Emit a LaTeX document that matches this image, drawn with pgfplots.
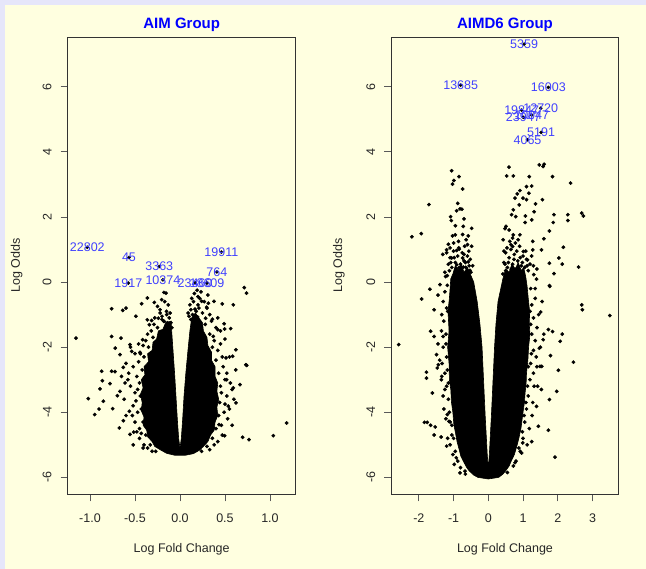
\documentclass[border=0pt]{standalone}
\usepackage{pgfplots}
\pgfplotsset{compat=1.18}
\usepackage{fontspec}
\setmainfont{Liberation Sans}
\definecolor{lav}{RGB}{230,230,250}
\definecolor{bgy}{RGB}{255,255,224}
\definecolor{lblue}{RGB}{64,64,255}
\definecolor{ttl}{RGB}{0,0,255}
\begin{document}
\begin{tikzpicture}[x=1pt,y=1pt]
\useasboundingbox (0,0) rectangle (646,569);
\fill[lav] (0,0) rectangle (646,569);
\fill[bgy] (5,0) rectangle (646,564);
\pgfplotsset{
  volc/.style={
    scale only axis, height=457pt, anchor=south west,
    ymin=-6.52, ymax=7.52,
    axis line style={black!80, line width=0.8pt},
    tick align=outside, major tick length=7pt,
    every tick/.style={black!65, line width=0.8pt},
    xtick pos=bottom, ytick pos=left,
    ytick={-6,-4,-2,0,2,4,6}, yticklabels={-6,-4,-2,0,2,4,6},
    tick label style={font=\fontsize{12.5}{15}\selectfont, text=black!85},
    yticklabel style={rotate=90, anchor=south},
    yticklabel shift=5.6pt, xticklabel shift=9.3pt,
    label style={font=\fontsize{12.5}{15}\selectfont, text=black!85},
    xlabel={Log Fold Change}, ylabel={Log Odds},
    xlabel style={at={(axis description cs:0.5,-0.1197)}, anchor=center},
    title style={font=\bfseries\fontsize{15}{18}\selectfont, text=ttl, at={(axis description cs:0.5,1)}, anchor=base, yshift=2.6pt},
  },
  dots/.style={only marks, mark=*, mark size=1.7pt, mark options={draw=black, fill=black}},
  dense/.style={fill=black, draw=black, line width=0.6pt},
  lab/.style={only marks, mark=*, mark size=1.6pt, mark options={draw=black, fill=black}, nodes near coords, point meta=explicit symbolic, every node near coord/.append style={anchor=center, text=lblue, font=\fontsize{12.5}{15}\selectfont}},
}
% ---------------- AIM Group ----------------
\begin{axis}[volc, at={(67.7pt,74.7pt)}, width=228pt,
  xmin=-1.248, xmax=1.286,
  xtick={-1,-0.5,0,0.5,1}, xticklabels={-1.0,-0.5,0.0,0.5,1.0},
  ylabel style={at={(axis description cs:-0.2237,0.5)}, anchor=center},
  title={AIM Group}]
\addplot[dense] coordinates {
(-0.10,-1.2) (-0.16,-1.25) (-0.19,-1.45) (-0.24,-1.5) (-0.26,-1.75) (-0.30,-1.85) (-0.31,-2.1) (-0.36,-2.2) (-0.35,-2.45) (-0.40,-2.6) (-0.39,-2.85) (-0.43,-3.0) (-0.41,-3.25) (-0.44,-3.45) (-0.42,-3.7) (-0.43,-3.95) (-0.40,-4.15) (-0.41,-4.4) (-0.37,-4.55) (-0.36,-4.75) (-0.31,-4.9) (-0.28,-5.05) (-0.22,-5.15) (-0.15,-5.26) (-0.06,-5.32) (0.06,-5.32) (0.15,-5.27) (0.22,-5.16) (0.26,-5.05) (0.31,-4.9) (0.34,-4.7) (0.38,-4.55) (0.39,-4.3) (0.42,-4.1) (0.41,-3.85) (0.43,-3.6) (0.41,-3.35) (0.42,-3.1) (0.39,-2.9) (0.39,-2.6) (0.35,-2.4) (0.35,-2.15) (0.31,-1.95) (0.30,-1.7) (0.26,-1.5) (0.25,-1.25) (0.21,-1.1) (0.17,-0.95) (0.13,-1.1) (0.11,-1.5) (0.085,-2.2) (0.065,-2.8) (0.045,-3.5) (0.03,-4.2) (0.015,-4.8) (0.0,-5.1) (-0.015,-4.8) (-0.03,-4.2) (-0.045,-3.5) (-0.06,-2.8) (-0.075,-2.2) (-0.09,-1.6)
} -- cycle;
\addplot[dots] coordinates {
(-1.156,-1.72) (-0.76,-0.82) (-0.637,-0.87) (-0.6,-0.80) (-0.426,-0.665) (-0.363,-0.49) (-0.285,-0.625) (-0.204,-0.54) (-0.178,-0.32) (-0.156,-0.34) (-0.222,-0.85) (-0.49,-1.05) (-0.76,-1.67) (-0.656,-1.72) (-0.72,-2.03) (-0.667,-2.23) (-0.556,-1.92) (-0.537,-2.13) (-0.444,-2.16) (-0.415,-1.77) (-0.34,-1.31) (-0.363,-1.16) (-0.315,-1.18) (-0.24,-1.11) (-0.148,-1.0) (-0.178,-1.21) (-0.141,-1.36)
(0.233,-0.30) (0.167,-0.83) (0.24,-0.59) (0.296,-0.77) (0.378,-0.59) (0.315,-0.65) (0.47,-0.67) (0.593,-0.70) (0.715,-0.17) (0.74,-0.34) (0.196,-1.07) (0.285,-1.11) (0.36,-1.14) (0.49,-1.28) (0.496,-1.44) (0.563,-1.43) (0.419,-1.46) (0.622,-2.08) (0.733,-2.54) (0.585,-2.28) (0.511,-2.33) (0.37,-1.67)
(-1.019,-3.58) (-0.948,-4.07) (-0.9,-3.90) (-0.889,-3.28) (-0.863,-3.03) (-0.87,-2.74) (-0.76,-2.74) (-0.722,-2.75) (-0.778,-3.12) (-0.852,-3.66) (-0.748,-3.89) (-0.674,-4.48) (-0.63,-4.26) (-0.696,-3.49) (-0.667,-3.36) (-0.611,-3.10) (-0.556,-4.68) (-0.515,-4.61) (-0.563,-3.97) (-0.63,-2.62)
(1.185,-4.33) (1.037,-4.72) (0.767,-4.84) (0.696,-4.77) (0.496,-4.72) (0.622,-3.71) (0.593,-3.25) (0.667,-3.15) (0.741,-2.56) (0.519,-3.0) (0.433,-4.38) (0.537,-3.81)
(-0.25,-1.4) (-0.3,-1.7) (-0.35,-2.0) (-0.4,-2.3) (-0.42,-2.7) (-0.45,-3.1) (-0.44,-3.5) (-0.43,-3.9) (-0.41,-4.3) (-0.38,-4.7) (-0.33,-5.0) (-0.27,-5.2) (-0.48,-2.9) (-0.5,-3.4) (-0.47,-4.0) (-0.45,-4.5) (-0.4,-5.0) (-0.32,-1.5) (-0.38,-1.8) (-0.44,-2.2) (-0.52,-2.6) (-0.55,-3.2) (-0.52,-3.8) (-0.5,-4.3) (-0.45,-4.8) (-0.55,-2.0) (-0.6,-2.5) (-0.58,-3.0) (-0.28,-1.1) (-0.2,-1.15)
(-0.46,-2.45) (-0.49,-3.65) (-0.47,-3.3) (-0.53,-4.1) (-0.43,-4.65) (-0.36,-5.1) (-0.31,-5.2) (-0.62,-3.6) (-0.57,-2.8) (-0.5,-2.2) (-0.41,-1.95) (-0.36,-1.6) (-0.29,-1.3) (-0.46,-1.9) (-0.6,-4.1) (-0.48,-4.6) (-0.65,-2.9) (-0.52,-5.0) (-0.41,-5.1)
(0.25,-0.95) (0.28,-1.3) (0.33,-1.6) (0.36,-2.0) (0.4,-2.4) (0.43,-2.8) (0.45,-3.2) (0.44,-3.7) (0.43,-4.1) (0.4,-4.5) (0.36,-4.8) (0.3,-5.05) (0.24,-5.2) (0.48,-2.6) (0.5,-3.0) (0.52,-3.5) (0.49,-4.0) (0.46,-4.4) (0.42,-4.9) (0.38,-1.8) (0.42,-2.1) (0.55,-2.3) (0.58,-3.3) (0.55,-3.9) (0.3,-0.8) (0.2,-0.7) (0.35,-1.2) (0.45,-1.5)
(0.47,-2.3) (0.46,-3.4) (0.5,-3.75) (0.47,-4.7) (0.38,-5.0) (0.33,-5.15) (0.52,-2.8) (0.56,-3.1) (0.6,-3.6) (0.53,-4.2) (0.45,-1.9) (0.4,-1.4) (0.33,-1.0) (0.27,-0.6) (0.5,-1.75) (0.62,-2.7) (0.58,-4.4) (0.2,-0.45) (0.31,-0.4) (0.42,-1.1)
(-0.15,-0.9) (-0.12,-1.1) (-0.18,-1.2) (-0.22,-0.95) (-0.1,-1.25) (0.15,-0.6) (0.12,-0.85) (0.18,-0.9) (0.22,-0.5) (0.14,-1.0) (0.1,-1.05)
(-0.13,-0.7) (-0.17,-0.6) (-0.11,-0.95) (-0.2,-1.05) (-0.25,-0.75) (-0.09,-1.4) (-0.14,-1.25) (0.11,-0.7) (0.13,-0.5) (0.09,-0.95) (0.16,-0.35) (0.19,-0.25) (0.12,-1.15) (0.21,-0.8)
};
\addplot[lab] coordinates {
(-1.03,1.07) [22802]
(-0.567,0.755) [45]
(-0.23,0.48) [3363]
(-0.574,-0.03) [1917]
(-0.19,0.07) [10374]
(0.167,-0.02) [23460]
(0.30,-0.03) [18609]
(0.46,0.92) [19911]
(0.41,0.31) [764]
};
\end{axis}
% ---------------- AIMD6 Group ----------------
\begin{axis}[volc, at={(391.3pt,74.7pt)}, width=227.4pt,
  xmin=-2.793, xmax=3.755,
  xtick={-2,-1,0,1,2,3}, xticklabels={-2,-1,0,1,2,3},
  ylabel style={at={(axis description cs:-0.2300,0.5)}, anchor=center},
  title={AIMD6 Group}]
\addplot[dense] coordinates {
(-0.5,0.2) (-0.6,0.45) (-0.7,0.3) (-0.78,0.55) (-0.88,0.35) (-0.95,0.5) (-1.02,0.25) (-1.08,0.1) (-1.12,-0.5) (-1.16,-0.9) (-1.13,-1.5) (-1.17,-2.0) (-1.13,-2.5) (-1.12,-3.0) (-1.08,-3.3) (-1.06,-3.7) (-1.02,-4.0) (-0.99,-4.4) (-0.95,-4.6) (-0.9,-4.9) (-0.85,-5.1) (-0.79,-5.35) (-0.72,-5.5) (-0.62,-5.7) (-0.55,-5.8) (-0.42,-5.93) (-0.3,-6.0) (0,-6.05) (0.3,-6.0) (0.42,-5.9) (0.5,-5.8) (0.6,-5.65) (0.66,-5.5) (0.75,-5.3) (0.82,-5.05) (0.88,-4.8) (0.94,-4.5) (0.97,-4.25) (1.0,-4.0) (1.04,-3.7) (1.06,-3.4) (1.09,-3.1) (1.10,-2.8) (1.14,-2.4) (1.16,-2.0) (1.2,-1.6) (1.18,-1.3) (1.19,-0.9) (1.15,-0.5) (1.12,-0.15) (1.08,0.15) (1.02,0.45) (0.95,0.35) (0.86,0.6) (0.78,0.4) (0.68,0.55) (0.6,0.3) (0.5,0.4) (0.42,0.1) (0.36,-0.2) (0.28,-0.6) (0.22,-1.3) (0.18,-2.0) (0.15,-2.7) (0.12,-3.4) (0.09,-4.1) (0.06,-4.7) (0.03,-5.3) (0,-5.75) (-0.03,-5.3) (-0.06,-4.7) (-0.09,-4.1) (-0.12,-3.4) (-0.15,-2.7) (-0.18,-2.0) (-0.24,-1.3) (-0.32,-0.6) (-0.42,0.0)
} -- cycle;
\addplot[dots] coordinates {
(-1.056,3.42) (-0.845,3.24) (-0.99,3.12) (-1.03,3.01) (-0.74,2.86) (-1.71,2.38) (-0.88,2.42) (-0.816,2.25) (-0.76,2.24) (-0.91,2.19) (-1.085,2.01) (-1.065,1.89) (-0.70,1.94) (-0.48,1.65) (-0.95,1.73) (-0.72,1.71) (-0.74,1.46) (-0.576,1.42) (-1.03,1.42) (-1.93,1.49) (-2.20,1.39) (-1.15,1.16) (-1.20,0.99) (-0.835,1.01) (-0.60,1.15) (-0.91,0.97) (-1.31,0.85) (-1.056,0.74) (-0.74,0.74) (-0.91,0.53) (-0.72,0.46) (-0.53,0.36) (-0.816,0.33) (-1.23,0.17) (-1.39,-0.08) (-1.68,-0.22)
(0.595,3.53) (0.53,3.26) (0.72,3.26) (1.18,3.24) (1.47,3.60) (1.61,3.62) (1.58,3.55) (1.85,3.24) (2.37,3.04) (0.835,2.71) (0.91,2.81) (1.10,2.93) (1.25,2.95) (1.17,2.73) (1.0,2.58) (0.77,2.58) (0.89,2.37) (1.10,2.53) (1.36,2.40) (1.56,2.53) (0.72,2.22) (0.67,2.07) (0.79,2.01) (1.07,2.03) (1.32,2.16) (1.25,1.91) (1.06,1.83) (1.89,2.07) (1.87,1.83) (2.29,2.07) (2.29,1.89) (2.69,2.12) (2.74,2.03) (0.51,1.71) (0.48,1.64) (1.76,1.57) (1.60,1.33) (1.28,1.25) (1.53,0.99) (2.16,1.07) (2.03,0.74) (2.13,0.55) (1.76,0.58) (1.89,0.26) (2.60,0.46) (1.28,0.99) (0.72,1.45) (0.86,1.30) (0.91,1.45) (1.01,0.94) (1.13,0.68) (1.31,0.23) (1.76,-0.11) (1.39,0.09) (0.43,1.30) (0.65,1.15) (0.70,1.09)
(-2.58,-1.92) (-1.92,-0.52) (-1.56,-0.85) (-1.34,-1.0) (-1.66,-1.51) (-1.56,-1.67) (-1.49,-2.23) (-1.44,-2.54) (-1.47,-2.64) (-1.78,-2.77) (-1.78,-2.95) (-1.34,-2.90) (-1.30,-1.67)
(2.69,-0.70) (2.71,-0.85) (3.50,-1.03) (2.13,-1.60) (2.07,-1.82) (2.45,-2.46) (2.02,-2.71) (1.79,-2.26) (1.85,-1.52) (1.73,-1.46) (1.77,-0.13) (1.58,-1.77) (1.54,-2.59) (1.47,-2.03) (1.51,-0.92)
(-1.84,-4.31) (-1.76,-4.31) (-1.66,-4.40) (-1.53,-4.45) (-1.56,-4.70) (-1.36,-4.76) (-1.20,-5.04) (-1.61,-3.41) (-1.13,-4.28) (-1.18,-4.07) (-0.815,-5.86) (-0.67,-5.81)
(1.44,-4.43) (1.73,-4.55) (1.92,-5.38) (1.39,-3.82) (1.76,-3.61) (1.97,-3.36) (1.53,-3.30) (1.49,-2.59) (0.96,-5.25) (0.77,-5.55) (0.99,-4.94)
(-1.2,0.9) (-1.1,0.75) (-1.0,0.95) (-0.95,0.6) (-0.88,0.8) (-0.8,0.55) (-0.75,0.9) (-0.7,0.65) (-0.65,0.45) (-0.6,0.8) (-0.55,0.5) (-1.05,0.45) (-1.15,0.55) (-0.92,0.4) (-0.85,1.05) (-0.68,1.1) (-0.78,0.3) (-1.25,0.3) (-0.5,0.3) (-1.0,1.2) (-0.58,0.62) (-0.9,0.2) (-1.18,0.2)
(-0.45,0.5) (-0.52,0.7) (-0.62,0.25) (-0.7,0.85) (-0.84,0.45) (-0.98,0.75) (-1.08,0.6) (-1.12,0.35) (-0.64,1.3) (-0.86,1.25) (-0.95,1.45) (-1.1,1.05) (-0.56,0.95) (-0.48,1.1) (-0.74,0.22) (-0.66,0.6)
(0.45,0.6) (0.5,0.9) (0.55,0.45) (0.6,0.75) (0.65,1.0) (0.7,0.55) (0.75,0.85) (0.8,0.4) (0.85,0.65) (0.9,1.1) (0.95,0.5) (1.0,0.8) (1.05,0.45) (1.1,0.7) (1.15,0.35) (1.2,0.55) (0.62,1.25) (0.78,1.2) (0.88,0.3) (1.3,0.5) (1.4,0.4) (0.5,0.35) (0.72,0.3) (1.0,0.3)
(0.42,0.25) (0.48,0.55) (0.58,0.6) (0.66,0.4) (0.74,0.7) (0.82,0.95) (0.92,0.75) (0.98,0.6) (1.08,0.95) (1.12,0.5) (0.54,1.05) (0.7,1.35) (0.85,0.2) (1.25,0.8) (0.6,1.6) (0.45,0.95)
(-1.25,-0.3) (-1.2,-0.8) (-1.28,-1.2) (-1.22,-1.6) (-1.3,-2.0) (-1.2,-2.3) (-1.25,-2.8) (-1.2,-3.2) (-1.15,-3.6) (-1.12,-4.0) (-1.05,-4.4) (-1.0,-4.8) (-0.95,-5.2) (-0.88,-5.5) (-1.35,-1.5) (-1.4,-2.4) (-1.3,-3.5) (-1.22,-4.2) (-1.1,-5.0) (-0.98,-5.6) (-1.18,-0.1) (-1.45,-1.9) (-1.35,-3.0) (-1.28,-3.9)
(-1.17,-0.9) (-1.22,-1.9) (-1.18,-2.7) (-1.15,-3.1) (-1.1,-4.3) (-1.05,-4.7) (-0.92,-5.4) (-0.8,-5.7) (-0.66,-5.9) (-1.3,-0.6) (-1.45,-0.4) (-1.33,-2.5) (-1.25,-3.3) (-1.17,-4.8) (-1.02,-5.3)
(1.22,-0.2) (1.25,-0.7) (1.3,-1.1) (1.25,-1.6) (1.3,-2.1) (1.22,-2.5) (1.2,-3.0) (1.15,-3.5) (1.1,-3.9) (1.05,-4.3) (1.0,-4.8) (0.92,-5.2) (0.8,-5.5) (1.35,-0.5) (1.4,-1.4) (1.38,-2.3) (1.3,-2.8) (1.28,-3.7) (1.18,-4.5) (1.12,-5.0) (1.45,-1.0) (1.5,-2.0) (1.42,-3.2) (1.35,-0.2) (1.55,-0.6) (1.6,-1.6)
(1.2,-0.9) (1.22,-1.3) (1.24,-2.2) (1.15,-2.6) (1.13,-3.2) (1.08,-3.7) (1.03,-4.1) (0.98,-4.6) (0.88,-5.1) (0.72,-5.65) (0.55,-5.85) (1.32,-3.2) (1.26,-4.1) (1.25,-4.9) (1.4,-2.6) (1.35,-1.8)
};
\addplot[lab] coordinates {
(1.03,7.31) [5359]
(-0.795,6.05) [13685]
(1.73,5.98) [16003]
(1.51,5.34) [12720]
(0.96,5.28) [19847]
(1.25,5.13) [10047]
(1.01,5.06) [23947]
(1.52,4.60) [5191]
(1.13,4.37) [4065]
};
\end{axis}
\end{tikzpicture}
\end{document}
